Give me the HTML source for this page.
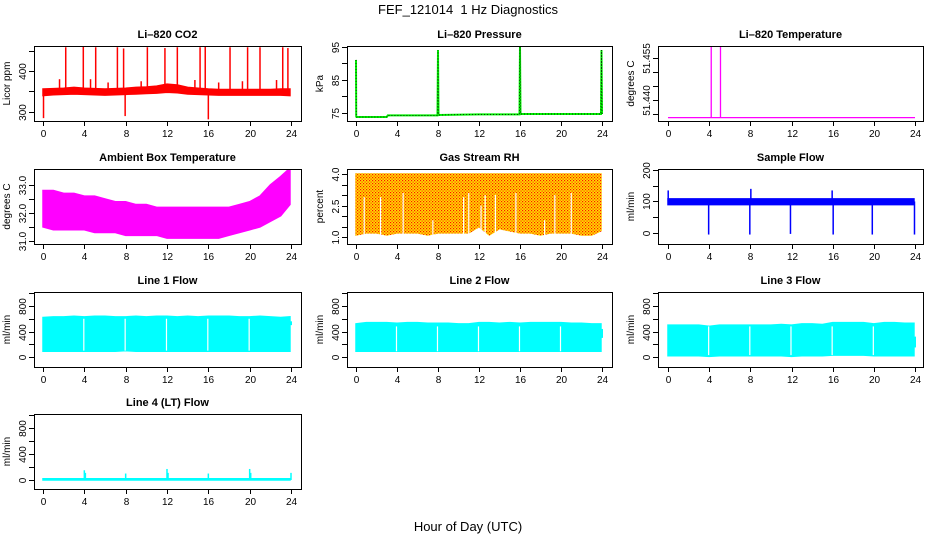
<!DOCTYPE html>
<html><head><meta charset="utf-8">
<style>
html,body{margin:0;padding:0;background:#fff;}
svg{display:block;font-family:"Liberation Sans",Arial,sans-serif;}
text{white-space:pre;}
</style></head>
<body>
<svg id="chart" width="936" height="540" viewBox="0 0 936 540" xmlns="http://www.w3.org/2000/svg">
<defs>
<pattern id="rhpat" width="3" height="3" patternUnits="userSpaceOnUse">
<rect width="3" height="3" fill="#ffe000"/>
<rect x="0" y="0" width="1.2" height="1.2" fill="#ff1000"/>
<rect x="1.5" y="1.5" width="1.2" height="1.2" fill="#ff3000"/>
</pattern>
</defs>
<text x="468" y="14" text-anchor="middle" font-size="13">FEF_121014  1 Hz Diagnostics</text>
<text x="468" y="531" text-anchor="middle" font-size="13">Hour of Day (UTC)</text>
</svg>
<script>
// shared x data
const hours = [0,1,2,3,4,5,6,7,8,9,10,11,12,13,14,15,16,17,18,19,20,21,22,23,23.9];
const xTicks = [0,4,8,12,16,20,24];

// CO2
const co2Lo = [340,342,343,344,343,342,341,342,343,344,345,346,348,347,344,343,342,341,341,341,341,341,341,341,340];
const co2Hi = [356,357,358,360,358,357,356,357,358,360,361,363,368,366,360,358,356,355,355,355,355,355,355,356,356];
const co2SpikeT = [2.2,3.9,5.1,7.2,7.8,10.1,11.8,13.0,15.2,15.7,18.1,19.8,21.0,23.2,23.7,1.6,4.6,6.3,9.5,14.7,17.0,22.6,19.3,0.05,7.95,16.0];
const co2SpikeV = [458,460,458,458,455,458,456,458,458,460,458,458,458,458,456,380,380,372,375,378,372,378,375,285,290,282];

// Pressure
const presT = [0,0.02,0.05,0.1,3,3.1,7.95,8.0,8.05,12,15.95,16.0,16.05,21.5,23.9,23.95,24];
const presV = [91,74,73.8,73.8,73.8,74.3,74.3,94,74.4,74.6,74.6,95,74.7,74.7,74.7,94,74.7];

// Li-820 temperature
const tempT = [0,4.2,4.2,4.2,5.1,5.1,5.1,24];
const tempV = [51.4337,51.4337,51.4593,51.4337,51.4337,51.4593,51.4337,51.4337];

// Ambient box temperature
const ambHi = [32.8,32.8,32.7,32.7,32.6,32.6,32.5,32.4,32.4,32.3,32.3,32.2,32.2,32.2,32.2,32.2,32.2,32.2,32.2,32.3,32.4,32.6,33.0,33.3,33.6];
const ambLo = [31.5,31.4,31.4,31.4,31.4,31.3,31.3,31.3,31.2,31.2,31.2,31.2,31.1,31.1,31.1,31.1,31.1,31.1,31.2,31.3,31.4,31.5,31.7,31.9,32.3];

// Gas stream RH
const rhHi = [4.0,4.0,4.0,4.0,4.0,4.0,4.0,4.0,4.0,4.0,4.0,4.0,4.0,4.0,4.0,4.0,4.0,4.0,4.0,4.0,4.0,4.0,4.0,4.0,4.0];
const rhLo = [1.1,1.2,1.2,1.1,1.2,1.2,1.2,1.1,1.2,1.2,1.2,1.2,1.5,1.1,1.4,1.3,1.2,1.2,1.1,1.2,1.2,1.2,1.1,1.1,1.3];
const rhGapT = [0.8,2.4,4.6,7.5,10.5,11.0,12.2,12.6,13.6,15.6,18.4,19.4,21.0];
const rhGapV = [2.9,2.9,3.1,1.8,2.9,3.1,2.5,3.0,3.0,3.1,1.8,3.0,3.1];

// Sample flow
const sfLo = [90,90,90,90,90,90,90,90,90,90,90,90,90,90,90,90,90,90,90,90,90,90,90,90,90];
const sfHi = [108,108,108,108,108,108,108,108,108,108,108,108,108,108,108,108,108,108,108,108,108,108,108,108,108];
const sfSpikeT = [0.02,3.95,7.95,8.05,11.9,15.95,16.05,19.85,23.95];
const sfSpikeV = [135,-5,-5,140,-3,135,-5,-5,-5];

// Line flows
const l1Hi = [620,630,630,640,630,640,640,630,630,640,630,640,640,630,640,630,640,640,640,630,630,640,630,620,630];
const l1Lo = [90,90,90,90,90,90,90,90,100,90,90,90,90,90,90,90,90,90,90,90,90,90,90,90,90];
const l2Hi = [520,540,540,540,530,540,540,530,530,530,520,520,540,540,530,540,530,540,540,540,540,530,530,520,520];
const l2Lo = [90,90,90,90,90,90,90,90,90,90,90,90,90,90,90,90,90,90,90,90,90,90,90,90,90];
const l3Hi = [500,500,500,500,480,500,500,500,500,500,500,510,500,520,520,510,540,540,540,540,520,540,540,530,530];
const l3Lo = [20,20,20,20,10,20,20,20,20,20,20,20,10,20,20,20,30,30,30,30,20,20,20,20,20];
const gapT = [3.95,7.95,11.95,15.95,19.95];
const tailT = [24.0];
const l1TailLo = [500], l1TailHi = [560];
const l2TailLo = [300], l2TailHi = [440];
const l3TailLo = [150], l3TailHi = [320];
const l4SpikeT = [4.0,4.1,8.0,12.0,12.1,16.0,20.0,20.1,24.0];
const l4SpikeV = [150,110,100,170,110,100,170,110,110];
const l4Lo = [0,0,0,0,0,0,0,0,0,0,0,0,0,0,0,0,0,0,0,0,0,0,0,0,0];
const l4Hi = [20,20,20,20,20,20,20,20,20,20,20,20,20,20,20,20,20,20,20,20,20,20,20,20,20];

const svg = document.getElementById('chart');
const NS = 'http://www.w3.org/2000/svg';
function mk(tag, attrs, parent){
  const e = document.createElementNS(NS, tag);
  for (const k in attrs) e.setAttribute(k, attrs[k]);
  (parent||svg).appendChild(e);
  return e;
}
const colX = [[34,301,43,291],[347,612,356,602],[658,923,668,915]];
const rowY = [46,169,292,414];
const BH = 75;

function makePanel(col,row,name,title,ylab,ymin,ymax,yticks,ylabels){
  const [bx0,bx1,x0,x1] = colX[col];
  const by0 = rowY[row], by1 = by0+BH;
  const g = mk('g',{});
  
  
  const xs = h => x0 + (h/24)*(x1-x0);
  const ys = v => by1 - (v-ymin)/(ymax-ymin)*BH;
  const data = mk('g',{},g);
  
  
  const clip = 'clip-'+name;
  const cp = mk('clipPath',{id:clip},g);
  mk('rect',{x:bx0,y:by0,width:bx1-bx0,height:BH},cp);
  data.setAttribute('clip-path','url(#'+clip+')');
  const box = mk('rect',{x:bx0+0.5,y:by0+0.5,width:bx1-bx0,height:BH,fill:'none',stroke:'#000','stroke-width':1},g);
  
  
  const t = mk('text',{x:(bx0+bx1)/2,y:by0-8,'text-anchor':'middle','font-size':11,'font-weight':'bold'},g);
  t.textContent = title;
  
  
  const xa = mk('g',{},g);
  
  
  xTicks.forEach(h=>{
    const x = Math.round(xs(h))+0.5;
    mk('line',{x1:x,x2:x,y1:by1,y2:by1+5,stroke:'#000'},xa);
    const tl = mk('text',{x:x,y:by1+16,'text-anchor':'middle','font-size':10},xa);
    tl.textContent = h;
    
    
  });
  const ya = mk('g',{},g);
  
  
  yticks.forEach((v,i)=>{
    const y = Math.round(ys(v))+0.5;
    mk('line',{x1:bx0-5,x2:bx0,y1:y,y2:y,stroke:'#000'},ya);
    if (ylabels[i] !== '') {
      const tl = mk('text',{x:bx0-8,y:y,'text-anchor':'middle','font-size':10,transform:'rotate(-90 '+(bx0-8)+' '+y+')'},ya);
      tl.textContent = ylabels[i];
      
      
    }
  });
  const yl = mk('text',{x:bx0-24,y:(by0+by1)/2,'text-anchor':'middle','font-size':10,transform:'rotate(-90 '+(bx0-24)+' '+((by0+by1)/2)+')'},g);
  yl.textContent = ylab;
  
  
  return {g:data,xs,ys};
}
function band(p, lo, hi, fill){
  let pts = hours.map((h,i)=>p.xs(h)+','+p.ys(hi[i]));
  for (let i=hours.length-1;i>=0;i--) pts.push(p.xs(hours[i])+','+p.ys(lo[i]));
  const e = mk('polygon',{points:pts.join(' '),fill:fill,stroke:fill,'stroke-width':1.5},p.g);
  
  
}
function spikes(p, ts, vs, base, color, w){
  ts.forEach((t,i)=>{
    const x = p.xs(t);
    const e = mk('line',{x1:x,x2:x,y1:p.ys(base),y2:p.ys(vs[i]),stroke:color,'stroke-width':w||1.5},p.g);
    
    
  });
}
function ranges(p, ts, los, his, color, w){
  ts.forEach((t,i)=>{
    const x = p.xs(t);
    const e = mk('line',{x1:x,x2:x,y1:p.ys(los[i]),y2:p.ys(his[i]),stroke:color,'stroke-width':w},p.g);
    
    
  });
}
function gaps(p, ts, lo, hi){
  ts.forEach(t=>{
    const x = p.xs(t);
    mk('line',{x1:x,x2:x,y1:p.ys(lo),y2:p.ys(hi),stroke:'#fff','stroke-width':1.2},p.g);
  });
}
function line(p, ts, vs, color, w, dash){
  const e = mk('polyline',{points:ts.map((t,i)=>p.xs(t)+','+p.ys(vs[i])).join(' '),fill:'none',stroke:color,'stroke-width':w},p.g);
  if (dash) e.setAttribute('stroke-dasharray',dash);
  
  
}

let p = makePanel(0,0,'co2','Li\u2013820 CO2','Licor ppm',278,461,[300,350,400,450],['300','','400','']);
band(p, co2Lo, co2Hi, '#ff0000');
spikes(p, co2SpikeT, co2SpikeV, 350, '#ff0000', 1.5);

p = makePanel(1,0,'pressure','Li\u2013820 Pressure','kPa',72.6,95.2,[75,80,85,90,95],['75','','85','','95']);
line(p, presT, presV, '#00ee00', 2);
line(p, presT, presV, '#000', 0.7, '1,2');

p = makePanel(2,0,'li820-temp','Li\u2013820 Temperature','degrees C',51.4325,51.4593,[51.435,51.440,51.445,51.450,51.455],['','51.440','','','51.455']);
line(p, tempT, tempV, '#ff00ff', 1.3);

p = makePanel(0,1,'ambient-temp','Ambient Box Temperature','degrees C',30.89,33.57,[31,31.5,32,32.5,33],['31.0','','32.0','','33.0']);
band(p, ambLo, ambHi, '#ff00ff');

p = makePanel(1,1,'rh','Gas Stream RH','percent',0.67,4.24,[1,1.5,2,2.5,3,3.5,4],['1.0','','','2.5','','','4.0']);
band(p, rhLo, rhHi, 'url(#rhpat)');
rhGapT.forEach((t,i)=>{
  const x = p.xs(t);
  mk('line',{x1:x,x2:x,y1:p.ys(1.0),y2:p.ys(rhGapV[i]),stroke:'#fff','stroke-width':1.2},p.g);
});

p = makePanel(2,1,'sample-flow','Sample Flow','ml/min',-35,203,[0,50,100,150,200],['0','','100','','200']);
band(p, sfLo, sfHi, '#0000ff');
spikes(p, sfSpikeT, sfSpikeV, 100, '#0000ff', 1.5);

const flowTicks = [0,200,400,600,800,1000], flowLabs = ['0','','400','','800',''];
p = makePanel(0,2,'line1-flow','Line 1 Flow','ml/min',-157,1020,flowTicks,flowLabs);
band(p, l1Lo, l1Hi, '#00ffff');
ranges(p, tailT, l1TailLo, l1TailHi, '#00ffff', 2);
gaps(p, gapT, 100, 600);

p = makePanel(1,2,'line2-flow','Line 2 Flow','ml/min',-157,1020,flowTicks,flowLabs);
band(p, l2Lo, l2Hi, '#00ffff');
ranges(p, tailT, l2TailLo, l2TailHi, '#00ffff', 2);
gaps(p, gapT, 90, 480);

p = makePanel(2,2,'line3-flow','Line 3 Flow','ml/min',-157,1020,flowTicks,flowLabs);
band(p, l3Lo, l3Hi, '#00ffff');
ranges(p, tailT, l3TailLo, l3TailHi, '#00ffff', 2);
gaps(p, gapT, 30, 480);

p = makePanel(0,3,'line4-flow','Line 4 (LT) Flow','ml/min',-138,1015,flowTicks,flowLabs);
band(p, l4Lo, l4Hi, '#00ffff');
spikes(p, l4SpikeT, l4SpikeV, 0, '#00ffff', 1.5);
</script>
</body></html>
